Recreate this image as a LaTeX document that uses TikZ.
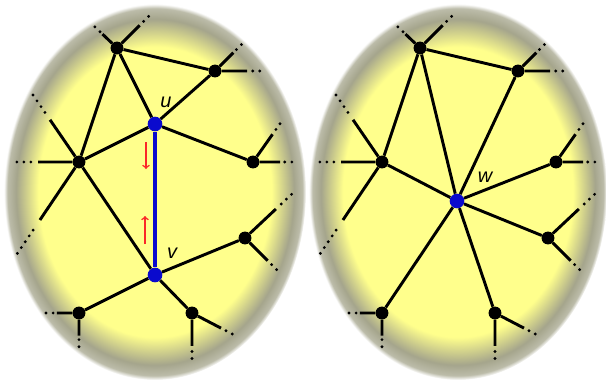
\documentclass[tikz,border=0pt]{standalone}
\usepackage{fontspec}
\setsansfont{Liberation Sans}
\usetikzlibrary{calc}
\definecolor{blobyellow}{RGB}{255,255,140}
\definecolor{blobring}{RGB}{165,165,140}
\definecolor{nodeblue}{RGB}{10,10,205}
\definecolor{flipred}{RGB}{250,40,40}
\pgfdeclareradialshading{blob}{\pgfpoint{0bp}{0bp}}{color(0bp)=(blobyellow); color(19.3bp)=(blobyellow); color(23bp)=(blobring); color(24.4bp)=(blobring!75!white); color(25bp)=(white); color(50bp)=(white)}
\tikzset{
  edge/.style={line width=2.5pt,black},
  dotline/.style={line width=2.7pt,line cap=round,dash pattern=on 0pt off 6pt},
  dot/.style={circle,fill=black,inner sep=0pt,minimum size=11pt},
  bdot/.style={circle,fill=nodeblue,inner sep=0pt,minimum size=12.5pt},
  lbl/.style={font=\fontsize{17}{19}\selectfont\sffamily\itshape},
  flip/.style={->,flipred,line width=1.3pt}
}
\begin{document}
\begin{tikzpicture}[x=0.03cm,y=-0.03cm]
\useasboundingbox (0,0) rectangle (606,382);
% backgrounds
\shade[shading=blob] (155,192) ellipse [x radius=151,y radius=188];
\shade[shading=blob] (458,192) ellipse [x radius=149,y radius=188];
% left graph: before contraction
\node[dot] (A) at (117,48) {};
\node[dot] (B) at (215,71) {};
\node[dot] (C) at (79,162) {};
\node[dot] (D) at (253,162) {};
\node[dot] (E) at (245,238) {};
\node[dot] (F) at (79,313) {};
\node[dot] (G) at (192,313) {};
\node[bdot] (u) at (155,124) {};
\node[bdot] (v) at (155,275) {};
\foreach \a/\b in {A/B,A/C,A/u,B/u,C/u,D/u,C/v,E/v,F/v,G/v} \draw[edge] (\a) -- (\b);
\draw[line width=2.6pt,nodeblue] (u) -- (v);
\node[lbl] (ul) at (166,102) {u};
\node[lbl] (vl) at (172,253) {v};
\coordinate (d0) at (146,142); \coordinate (d1) at (146,169);
\coordinate (p0) at (145,244); \coordinate (p1) at (145,216);
\draw[flip] (d0) -- (d1);
\draw[flip] (p0) -- (p1);
% right graph: after contraction
\begin{scope}[xshift=303*0.03cm]
\node[dot] (A') at (117,48) {};
\node[dot] (B') at (215,71) {};
\node[dot] (C') at (79,162) {};
\node[dot] (D') at (253,162) {};
\node[dot] (E') at (245,238) {};
\node[dot] (F') at (79,313) {};
\node[dot] (G') at (192,313) {};
\node[bdot] (w) at (154,201) {};
\end{scope}
\foreach \a/\b in {A'/B',A'/C',A'/w,B'/w,C'/w,D'/w,E'/w,F'/w,G'/w} \draw[edge] (\a) -- (\b);
\node[lbl] (wl) at (485,177) {w};
% dotted stubs
\foreach \s in {0,303}{
  \foreach \n/\x/\y [count=\i] in {A/94/26,A/153/12,B/244/42,B/266/71,C/14/162,C/33/95,C/17/254,
      D/284/118,D/296/162,E/294/192,E/281/274,F/44/313,F/79/349,G/192/365,G/238/337}{
    \coordinate (end\i) at (\x+\s,\y);
    \ifnum\s=0 \def\m{\n}\else \def\m{\n'}\fi
    \draw[edge] (\m) -- ($(\m)!0.63!(end\i)$);
    \draw[dotline] ($(\m)!0.74!(end\i)$) -- (end\i);
  }
}
\end{tikzpicture}
\end{document}
